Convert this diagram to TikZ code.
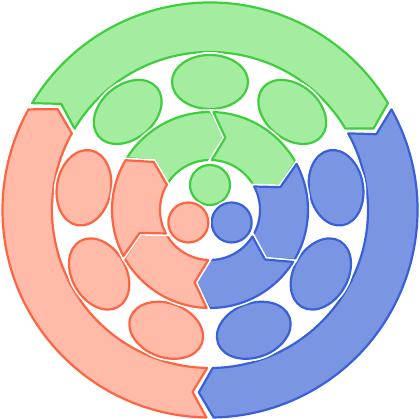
\documentclass[tikz,border=0pt]{standalone}
\usepackage{tikz}
\usetikzlibrary{shapes.geometric}
\definecolor{grnfill}{RGB}{164,236,160}
\definecolor{grnline}{RGB}{62,206,62}
\definecolor{blufill}{RGB}{122,150,226}
\definecolor{bluline}{RGB}{58,96,216}
\definecolor{redfill}{RGB}{255,186,168}
\definecolor{redline}{RGB}{255,100,66}
\tikzset{
halo/.style={preaction={draw=white, line width=5.5pt}}, % white rim round every shape
grnpart/.style={halo, draw=grnline, fill=grnfill, line width=2.2pt, line join=round},
blupart/.style={halo, draw=bluline, fill=blufill, line width=2.2pt, line join=round},
redpart/.style={halo, draw=redline, fill=redfill, line width=2.2pt, line join=round},
oval/.style={ellipse, minimum width=76pt, minimum height=54pt, inner sep=0pt},
dot/.style={circle, minimum size=40pt, inner sep=0pt},
}
% ring piece: style, outer radius, inner radius, tail angle, head angle, chevron depth
\newcommand{\ringpiece}[6]{%
  \pgfmathsetmacro{\rmid}{(#2+#3)/2}
  \draw[#1] ({#4}:#2) arc[start angle={#4}, end angle={#5}, radius=#2]
    -- ({#5-#6}:\rmid) -- ({#5}:#3)
    arc[start angle={#5}, end angle={#4}, radius=#3]
    -- ({#4-#6}:\rmid) -- cycle;}

\begin{document}
\begin{tikzpicture}[x=1pt, y=1pt]
        \useasboundingbox (-210,-209) rectangle (210,210);
        % outer ring
        \foreach \a/\c in {149/grnpart, 29/blupart, -91/redpart}
            \ringpiece{\c}{207.5}{158}{\a}{\a-118}{4.5}
        % middle ring of ovals
        \foreach \a/\c [count=\i] in {130/grnpart, 90/grnpart, 50/grnpart,
                10/blupart, -30/blupart, -70/blupart,
                -110/redpart, -150/redpart, 170/redpart}
            \node[oval, \c, rotate=\a-90] (e\i) at (\a:128) {};
        % inner ring
        \foreach \a/\c in {148/grnpart, 88/grnpart, 28/blupart, -32/blupart, -92/redpart, -152/redpart}
            \ringpiece{\c}{98}{50}{\a}{\a-58.5}{10}
        % centre
        \node[dot, grnpart] (cg) at (90:25) {};
        \node[dot, blupart] (cb) at (-30:25) {};
        \node[dot, redpart] (cr) at (210:25) {};
    \end{tikzpicture}
\end{document}
